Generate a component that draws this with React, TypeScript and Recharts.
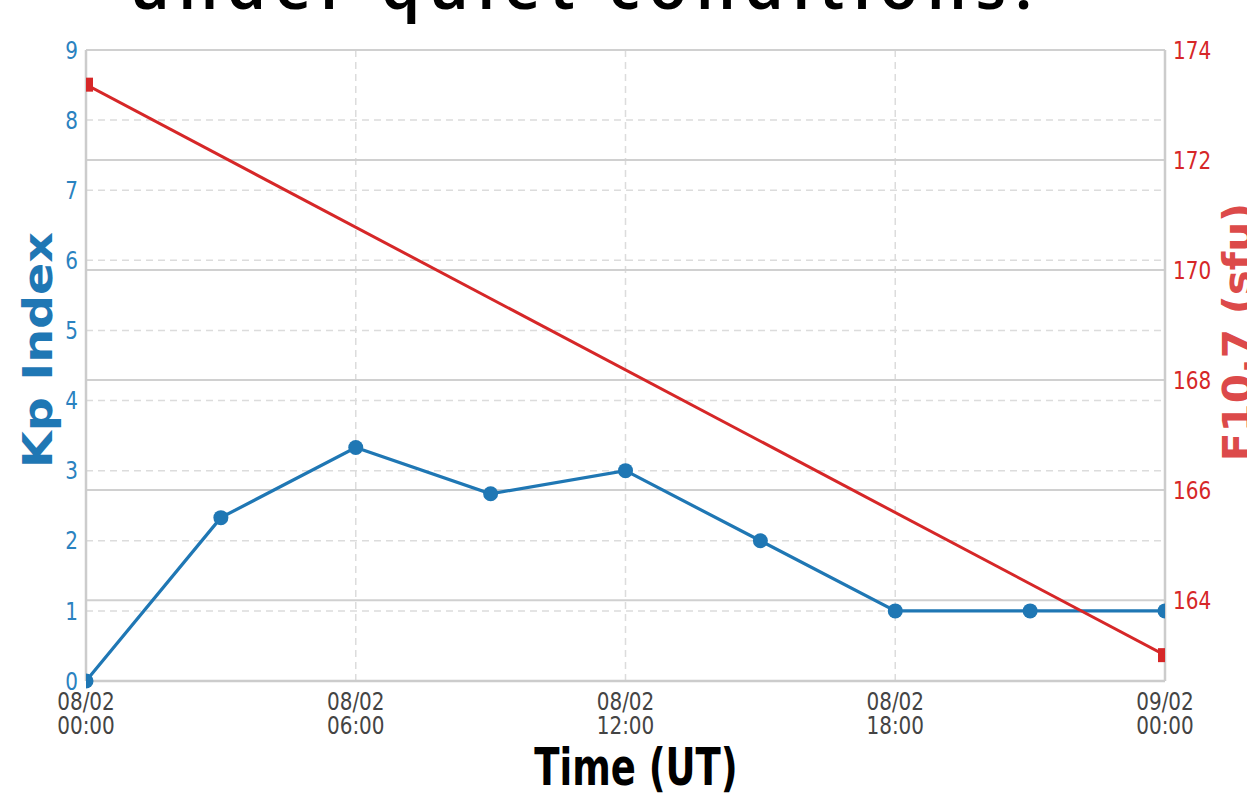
import { LineChart, Line, XAxis, YAxis, CartesianGrid } from "recharts";

const hours = [0, 3, 6, 9, 12, 15, 18, 21, 24];
const kpValues = [0, 2.33, 3.33, 2.67, 3, 2, 1, 1, 1];
const f107Values = [173.37, null, null, null, null, null, null, null, 163.0];

const xTicks = [0, 6, 12, 18, 24];
const xTickDates = ["08/02", "08/02", "08/02", "08/02", "09/02"];
const xTickTimes = ["00:00", "06:00", "12:00", "18:00", "00:00"];
const kpTicks = [0, 1, 2, 3, 4, 5, 6, 7, 8, 9];
const f107Ticks = [164, 166, 168, 170, 172, 174];

const BLUE = "#1f77b4";
const RED = "#d62728";
const FONT = "'DejaVu Sans', sans-serif";

const data = hours.map((h, i) => ({ hour: h, kp: kpValues[i], f107: f107Values[i] }));

// matplotlib image was stretched vertically, so text is scaled in y
const KpTick = (props: any) => {
  const { x, y, payload } = props;
  return (
    <text
      transform={`translate(${x},${y}) scale(1,1.2)`}
      textAnchor="end"
      dominantBaseline="central"
      fill="#2a82c0"
      fontSize={20}
      fontFamily={FONT}
    >
      {payload.value}
    </text>
  );
};

const F107Tick = (props: any) => {
  const { x, y, payload } = props;
  return (
    <text
      transform={`translate(${x},${y}) scale(1,1.2)`}
      textAnchor="start"
      dominantBaseline="central"
      fill={RED}
      fontSize={20}
      fontFamily={FONT}
    >
      {payload.value}
    </text>
  );
};

const TimeTick = (props: any) => {
  const { x, y, payload } = props;
  const i = xTicks.indexOf(payload.value);
  return (
    <g transform={`translate(${x},${y})`}>
      <text
        transform="translate(0,20) scale(1,1.2)"
        textAnchor="middle"
        dominantBaseline="central"
        fill="#444"
        fontSize={20}
        fontFamily={FONT}
      >
        {xTickDates[i]}
      </text>
      <text
        transform="translate(0,44) scale(1,1.2)"
        textAnchor="middle"
        dominantBaseline="central"
        fill="#444"
        fontSize={20}
        fontFamily={FONT}
      >
        {xTickTimes[i]}
      </text>
    </g>
  );
};

const RedSquare = (props: any) => {
  const { cx, cy, value, index } = props;
  if (value == null || cx == null || cy == null) return <g key={index} />;
  return <rect key={index} x={cx - 7} y={cy - 7} width={14} height={14} fill={RED} />;
};

const App = () => {
  return (
    <div
      style={{
        position: "absolute",
        left: 0,
        top: 0,
        width: 1247,
        height: 796,
        overflow: "hidden",
        background: "#fff",
      }}
    >
      <div
        style={{
          position: "absolute",
          left: 130,
          top: -46,
          fontFamily: "'Noto Sans', sans-serif",
          fontSize: 62,
          fontWeight: 600,
          letterSpacing: 9,
          lineHeight: 1,
          color: "#000",
          whiteSpace: "nowrap",
        }}
      >
        under quiet conditions.
      </div>
      <LineChart
        width={1247}
        height={796}
        data={data}
        margin={{ top: 50, right: 0, bottom: 0, left: 0 }}
      >
        <CartesianGrid
          yAxisId="kp"
          stroke="#dcdcdc"
          strokeWidth={1.5}
          strokeDasharray="7 5"
        />
        <CartesianGrid
          yAxisId="f107"
          vertical={false}
          stroke="#d0d0d0"
          strokeWidth={2}
        />
        <XAxis
          dataKey="hour"
          type="number"
          domain={[0, 24]}
          ticks={xTicks}
          allowDataOverflow
          height={115}
          tickSize={0}
          tickMargin={0}
          tickLine={false}
          axisLine={{ stroke: "#cccccc", strokeWidth: 2.5 }}
          tick={<TimeTick />}
          label={{
            content: () => (
              <text
                transform="translate(636,785) scale(1,1.4)"
                textAnchor="middle"
                fontSize={37}
                fontWeight="bold"
                fontFamily={FONT}
                fill="#000"
              >
                Time (UT)
              </text>
            ),
          }}
        />
        <YAxis
          yAxisId="kp"
          domain={[0, 9]}
          ticks={kpTicks}
          width={86}
          tickSize={0}
          tickMargin={8}
          tickLine={false}
          axisLine={{ stroke: "#cccccc", strokeWidth: 2.5 }}
          tick={<KpTick />}
          label={{
            content: () => (
              <text
                transform="translate(38,350) rotate(-90) scale(1.19,1)"
                textAnchor="middle"
                dominantBaseline="central"
                fontSize={40}
                fontWeight="bold"
                fontFamily={FONT}
                fill={BLUE}
              >
                Kp Index
              </text>
            ),
          }}
        />
        <YAxis
          yAxisId="f107"
          orientation="right"
          domain={[162.53, 174]}
          ticks={f107Ticks}
          width={82}
          tickSize={0}
          tickMargin={8}
          tickLine={false}
          axisLine={{ stroke: "#cccccc", strokeWidth: 2.5 }}
          tick={<F107Tick />}
          label={{
            content: () => (
              <text
                transform="translate(1238,332) rotate(-90) scale(1.05,1)"
                textAnchor="middle"
                dominantBaseline="central"
                fontSize={40}
                fontWeight="bold"
                fontFamily={FONT}
                fill="#dc4a4a"
              >
                F10.7 (sfu)
              </text>
            ),
          }}
        />
        <Line
          yAxisId="kp"
          dataKey="kp"
          stroke={BLUE}
          strokeWidth={3.2}
          dot={{ r: 7.5, fill: BLUE, stroke: BLUE, strokeWidth: 0 }}
          activeDot={false}
          isAnimationActive={false}
        />
        <Line
          yAxisId="f107"
          dataKey="f107"
          stroke={RED}
          strokeWidth={3}
          connectNulls
          dot={<RedSquare />}
          activeDot={false}
          isAnimationActive={false}
        />
      </LineChart>
    </div>
  );
};

export default App;
